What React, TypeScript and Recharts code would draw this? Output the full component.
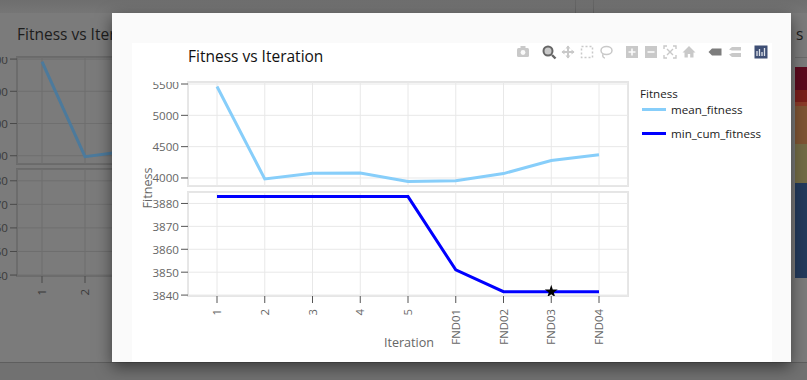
import React from "react";
import { LineChart, Line, XAxis, YAxis, CartesianGrid, Symbols, BarChart, Bar } from "recharts";

const iterations = ["1", "2", "3", "4", "5", "FND01", "FND02", "FND03", "FND04"];
const meanFitness = [5460, 3985, 4075, 4080, 3945, 3955, 4070, 4280, 4370];
const minCumFitness = [3883, 3883, 3883, 3883, 3883, 3851, 3841.5, 3841.5, 3841.5];
const bestPoint = [null, null, null, null, null, null, null, 3841.5, null];
const meanTicks = [4000, 4500, 5000, 5500];
const minTicks = [3840, 3850, 3860, 3870, 3880];
const chartTitle = "Fitness vs Iteration";
const xTitle = "Iteration";
const yTitle = "Fitness";
const legendTitle = "Fitness";
const seriesNames = ["mean_fitness", "min_cum_fitness"];
const heatValues = [95, 39, 38, 4, 12, 23];
const heatColors = ["#233a5c", "#736b45", "#7e5433", "#8a3b28", "#7a1f1a", "#5c0a1e"];

const rows = iterations.map((iter, i) => ({
  iter,
  mean: meanFitness[i],
  min: minCumFitness[i],
  best: bestPoint[i],
}));
const heatRow = [Object.fromEntries(heatValues.map((v, i) => ["s" + i, v]))];

const FONT = '"Open Sans", sans-serif';

const YTick = ({ x, y, payload, color }: any) => (
  <text x={x} y={y + 4.5} textAnchor="end" fontSize={11.6} fontFamily={FONT} fill={color}>
    {payload.value}
  </text>
);
const XTick = ({ x, y, payload, color }: any) => (
  <text
    x={x + 4}
    y={y + 4}
    textAnchor="end"
    fontSize={11.4}
    fontFamily={FONT}
    fill={color}
    transform={`rotate(-90 ${x + 4} ${y + 4})`}
  >
    {payload.value}
  </text>
);

const Star = ({ cx, cy, payload }: any) =>
  payload.best == null ? (
    <g key={payload.iter} />
  ) : (
    <Symbols key={payload.iter} type="star" size={52} cx={cx} cy={cy} fill="#000" stroke="none" />
  );

type PanelProps = {
  left: number; top: number; right: number; bottom: number;
  dataKey: string; domain: [number, number]; ticks: number[];
  stroke: string; grid: string; frame: string; tickColor: string; text: string;
  step: number; firstX: number; showX: boolean; star?: boolean;
};

const Panel = (p: PanelProps) => {
  const axisW = 60;
  const pad = p.firstX - p.left;
  const w = p.right - p.left;
  const h = p.bottom - p.top;
  const below = p.showX ? 60 : 0;
  return (
    <>
      <div style={{ position: "absolute", boxSizing: "border-box", left: p.left - 1, top: p.top - 1, width: w + 2, height: h + 2, border: `2px solid ${p.frame}` }} />
      <div style={{ position: "absolute", left: p.left - axisW, top: p.top }}>
        <LineChart width={axisW + w} height={h + below} data={rows} margin={{ top: 0, right: 0, bottom: 0, left: 0 }} style={{ overflow: "visible" }}>
          <CartesianGrid stroke={p.grid} strokeWidth={1} />
          <XAxis
            dataKey="iter"
            scale="point"
            interval={0}
            hide={!p.showX}
            height={below}
            padding={{ left: pad, right: w - pad - p.step * (iterations.length - 1) }}
            axisLine={false}
            tickSize={7}
            tickLine={{ stroke: p.tickColor }}
            tick={<XTick color={p.text} />}
          />
          <YAxis
            width={axisW}
            type="number"
            domain={p.domain}
            ticks={p.ticks}
            interval={0}
            allowDataOverflow
            axisLine={false}
            tickSize={7}
            tickLine={{ stroke: p.tickColor }}
            tick={<YTick color={p.text} />}
          />
          <Line dataKey={p.dataKey} stroke={p.stroke} strokeWidth={3} dot={false} isAnimationActive={false} strokeLinejoin="miter" />
          {p.star ? (
            <Line dataKey="best" stroke="none" dot={<Star />} activeDot={false} isAnimationActive={false} connectNulls={false} />
          ) : null}
        </LineChart>
      </div>
    </>
  );
};

const Ico = ({ x, children }: { x: number; children: React.ReactNode }) => (
  <g transform={`translate(${x} 52)`}>{children}</g>
);
const G = "#c9c9c9";
const Toolbar = () => (
  <svg width={807} height={70} style={{ position: "absolute", left: 0, top: 0 }}>
    <Ico x={523}>
      <rect x={-6} y={-4} width={12} height={9} rx={1.5} fill={G} />
      <rect x={-2.5} y={-6} width={5} height={3} fill={G} />
      <circle r={2.4} cy={0.5} fill="#fafafa" />
    </Ico>
    <Ico x={549}>
      <circle cx={-1} cy={-1} r={4.5} fill={G} stroke="#666" strokeWidth={2} />
      <line x1={3} y1={3} x2={6.5} y2={6.5} stroke="#666" strokeWidth={2.4} />
    </Ico>
    <Ico x={568}>
      <path d="M-6 0H6M0 -6V6" stroke={G} strokeWidth={2} />
      <path d="M-6.5 0L-3.5 -2.5V2.5ZM6.5 0L3.5 -2.5V2.5ZM0 -6.5L-2.5 -3.5H2.5ZM0 6.5L-2.5 3.5H2.5Z" fill={G} />
    </Ico>
    <Ico x={587}>
      <rect x={-5.5} y={-5.5} width={11} height={11} fill="none" stroke={G} strokeWidth={1.5} strokeDasharray="2 2" />
    </Ico>
    <Ico x={606}>
      <ellipse cx={0.5} cy={-1.5} rx={5.5} ry={4} fill="none" stroke={G} strokeWidth={1.5} />
      <path d="M-3 2C-4 5 -2 6 -1 6" fill="none" stroke={G} strokeWidth={1.5} />
    </Ico>
    <Ico x={632}>
      <rect x={-6} y={-6} width={12} height={12} fill={G} />
      <path d="M-3.5 0H3.5M0 -3.5V3.5" stroke="#fafafa" strokeWidth={1.6} />
    </Ico>
    <Ico x={651}>
      <rect x={-6} y={-6} width={12} height={12} fill={G} />
      <path d="M-3.5 0H3.5" stroke="#fafafa" strokeWidth={1.6} />
    </Ico>
    <Ico x={670}>
      <path d="M-6 -3V-6H-3M3 -6H6V-3M6 3V6H3M-3 6H-6V3" fill="none" stroke={G} strokeWidth={1.4} />
      <path d="M-3 -3L3 3M3 -3L-3 3" stroke={G} strokeWidth={1.4} />
    </Ico>
    <Ico x={689}>
      <path d="M0 -6L-6.5 0.5H-4.5V5.5H-1.2V2H1.2V5.5H4.5V0.5H6.5Z" fill={G} />
    </Ico>
    <Ico x={715}>
      <path d="M-6.5 0L-3 -3.5H6.5V3.5H-3Z" fill="#7d7d7d" />
    </Ico>
    <Ico x={735}>
      <path d="M-6 -2.5L-3 -5H6V-1.5H-3ZM-6 2.5L-3 1H6V5H-3Z" fill={G} />
    </Ico>
    <Ico x={761}>
      <rect x={-6.5} y={-6.5} width={13} height={13} fill="#3f4f75" />
      <path d="M-4 -1V4M-1.5 -3V4M1 0V4M3.5 -4V4" stroke="#dfe3ea" strokeWidth={1.3} />
    </Ico>
  </svg>
);

const abs = (left: number, top: number, extra: React.CSSProperties = {}): React.CSSProperties => ({
  position: "absolute",
  left,
  top,
  whiteSpace: "nowrap",
  fontFamily: FONT,
  lineHeight: 1,
  ...extra,
});

export default function App() {
  return (
    <div style={{ position: "fixed", left: 0, top: 0, width: 807, height: 380, overflow: "hidden", background: "#7b7b7b" }}>
      {/* page behind the dialog */}
      <div style={{ position: "absolute", left: 0, top: 0, width: 807, height: 13, background: "linear-gradient(#6e6e6e,#767676)" }} />
      <div style={{ position: "absolute", left: 0, top: 362, width: 807, height: 18, borderTop: "1px solid #5e5e5e", background: "#717171" }} />
      <div style={{ position: "absolute", left: 575, top: 0, width: 1, height: 13, background: "#666" }} />
      <div style={{ position: "absolute", left: 593, top: 0, width: 1, height: 13, background: "#666" }} />
      <div style={abs(17, 27, { fontSize: 15.5, color: "#1d1d1d" })}>{chartTitle}</div>
      <Panel left={17} top={57} right={411} bottom={164} dataKey="mean" domain={[3872, 5532]} ticks={meanTicks}
        stroke="#4c7a9c" grid="#6f6f6f" frame="#6a6a6a" tickColor="#4a4a4a" text="#3a3a3a" step={43} firstX={42} showX={false} />
      <Panel left={17} top={169} right={411} bottom={276} dataKey="none" domain={[3839.6, 3885]} ticks={minTicks}
        stroke="#4c7a9c" grid="#6f6f6f" frame="#6a6a6a" tickColor="#4a4a4a" text="#3a3a3a" step={43} firstX={42} showX />
      <div style={abs(796, 27, { fontSize: 15.5, color: "#1d1d1d" })}>s</div>
      <div style={{ position: "absolute", left: 795, top: 57, width: 12, height: 1, background: "#6a6a6a" }} />
      <div style={{ position: "absolute", left: 795, top: 67 }}>
        <BarChart width={12} height={211} data={heatRow} margin={{ top: 0, right: 0, bottom: 0, left: 0 }} barCategoryGap={0}>
          <YAxis hide domain={[0, 211]} />
          <XAxis hide />
          {heatValues.map((_, i) => (
            <Bar key={i} dataKey={"s" + i} stackId="a" fill={heatColors[i]} isAnimationActive={false} />
          ))}
        </BarChart>
      </div>

      {/* dialog */}
      <div style={{ position: "absolute", left: 112, top: 13, width: 679, height: 349, background: "#fafafa", boxShadow: "0 5px 15px rgba(0,0,0,.5)" }} />
      <div style={{ position: "absolute", left: 132, top: 43, width: 640, height: 319, background: "#fff" }} />

      <div style={abs(188, 49, { fontSize: 15.5, color: "#111" })}>{chartTitle}</div>
      <Toolbar />
      <Panel left={188} top={82} right={628} bottom={186} dataKey="mean" domain={[3872, 5532]} ticks={meanTicks}
        stroke="#87cefa" grid="#e8e8e8" frame="#e5e5e5" tickColor="#555" text="#666" step={47.75} firstX={217} showX={false} />
      <Panel left={188} top={192} right={628} bottom={296} dataKey="min" domain={[3839.6, 3885]} ticks={minTicks}
        stroke="#0000ff" grid="#e8e8e8" frame="#e5e5e5" tickColor="#555" text="#666" step={47.75} firstX={217} showX star />

      <div style={abs(148, 188, { fontSize: 12.6, color: "#666", transform: "translate(-50%,-50%) rotate(-90deg)" })}>{yTitle}</div>
      <div style={abs(409, 343, { fontSize: 12.6, color: "#666", transform: "translatex(-50%) translateY(-50%)" })}>{xTitle}</div>

      <div style={abs(640, 88, { fontSize: 11.6, color: "#222" })}>{legendTitle}</div>
      {seriesNames.map((name, i) => (
        <React.Fragment key={name}>
          <div style={{ position: "absolute", left: 642, top: i === 0 ? 108 : 132, width: 24, height: 3, background: i === 0 ? "#87cefa" : "#0000ff" }} />
          <div style={abs(671, i === 0 ? 104 : 128, { fontSize: 11.6, color: "#222" })}>{name}</div>
        </React.Fragment>
      ))}
    </div>
  );
}
